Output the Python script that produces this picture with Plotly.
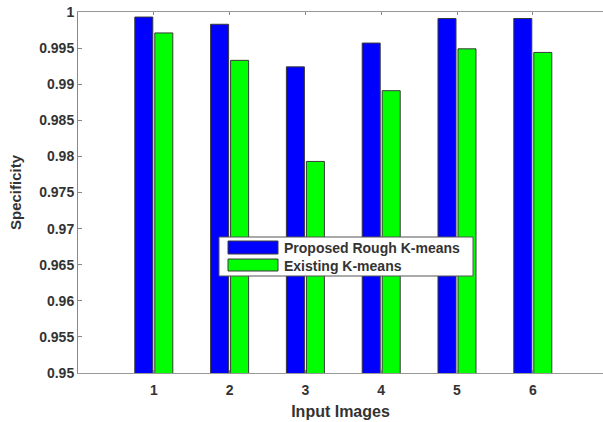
import plotly.graph_objects as go

categories = [1, 2, 3, 4, 5, 6]
proposed = [0.9993, 0.9983, 0.9924, 0.9957, 0.9991, 0.9991]
existing = [0.9971, 0.9933, 0.9793, 0.9891, 0.9949, 0.9944]
series_names = ["Proposed Rough K-means", "Existing K-means"]
ytick_vals = [0.95, 0.955, 0.96, 0.965, 0.97, 0.975, 0.98, 0.985, 0.99, 0.995, 1.0]
ytick_text = ["0.95", "0.955", "0.96", "0.965", "0.97", "0.975", "0.98", "0.985", "0.99", "0.995", "1"]

W, H = 603, 422
ML, MT, MB = 78, 12, 49
PW = W - ML
PH = H - MT - MB

def px(x):
    return (x - ML) / PW

def py(y):
    return (H - MB - y) / PH

font_fam = "Liberation Sans, Arial, sans-serif"
txt_col = "#333333"
edge = "#3a3a3a"

fig = go.Figure()
fig.add_trace(go.Bar(x=categories, y=proposed, name=series_names[0],
                     marker=dict(color="#0000FF", line=dict(color=edge, width=1)),
                     showlegend=False))
fig.add_trace(go.Bar(x=categories, y=existing, name=series_names[1],
                     marker=dict(color="#00FF00", line=dict(color=edge, width=1)),
                     showlegend=False))

shapes = [
    dict(type="rect", xref="paper", yref="paper", x0=px(219), x1=px(473), y0=py(276), y1=py(237),
         fillcolor="white", line=dict(color="#555555", width=1), layer="above"),
    dict(type="rect", xref="paper", yref="paper", x0=px(228), x1=px(278), y0=py(254), y1=py(241),
         fillcolor="#0000FF", line=dict(color=edge, width=1), layer="above"),
    dict(type="rect", xref="paper", yref="paper", x0=px(228), x1=px(278), y0=py(271), y1=py(259),
         fillcolor="#00FF00", line=dict(color=edge, width=1), layer="above"),
]
annotations = [
    dict(xref="paper", yref="paper", x=px(282), y=py(248), text="<b>" + series_names[0] + "</b>",
         showarrow=False, xanchor="left", yanchor="middle",
         font=dict(family=font_fam, size=14, color=txt_col)),
    dict(xref="paper", yref="paper", x=px(282), y=py(265.5), text="<b>" + series_names[1] + "</b>",
         showarrow=False, xanchor="left", yanchor="middle",
         font=dict(family=font_fam, size=14, color=txt_col)),
]

fig.update_layout(
    width=W, height=H,
    margin=dict(l=ML, r=0, t=MT, b=MB, pad=0),
    paper_bgcolor="white", plot_bgcolor="white",
    barmode="group", bargap=0.472, bargroupgap=0.1,
    shapes=shapes, annotations=annotations,
    font=dict(family=font_fam, color=txt_col),
    xaxis=dict(range=[0, PW / 75.8], tickvals=categories,
               ticktext=["<b>" + str(c) + "</b>" for c in categories],
               ticks="inside", ticklen=3, tickcolor="#888888", ticklabelstandoff=4,
               showline=True, linecolor="#999999", linewidth=1, mirror="ticks",
               showgrid=False, zeroline=False,
               tickfont=dict(size=14, color=txt_col),
               title=dict(text="<b>Input Images</b>", font=dict(size=16, color=txt_col), standoff=9)),
    yaxis=dict(range=[0.95, 1.0], tickvals=ytick_vals, ticktext=["<b>" + t + "</b>" for t in ytick_text],
               ticks="inside", ticklen=4, tickcolor="#888888",
               showline=True, linecolor="#888888", linewidth=1, mirror=False,
               showgrid=False, zeroline=False,
               tickfont=dict(size=14, color=txt_col),
               title=dict(text="<b>Specificity</b>", font=dict(size=15, color=txt_col), standoff=13)),
)

fig.write_html("out.html")
